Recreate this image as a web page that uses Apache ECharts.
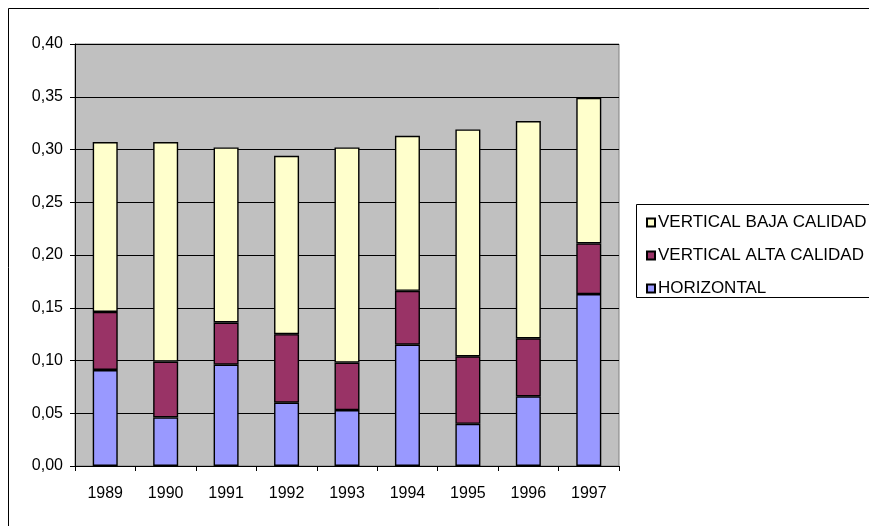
<!DOCTYPE html>
<html>
<head>
<meta charset="utf-8">
<script src="https://cdn.jsdelivr.net/npm/echarts@6/dist/echarts.min.js"></script>
<style>
  html, body { margin: 0; padding: 0; background: #ffffff; }
  #chart { width: 869px; height: 526px; }
</style>
</head>
<body>
<div id="chart"></div>
<script>
// Years on the category axis
const years = ['1989', '1990', '1991', '1992', '1993', '1994', '1995', '1996', '1997'];

// Stacked components (bottom to top)
const horizontal = [0.091, 0.046, 0.096, 0.060, 0.053, 0.115, 0.040, 0.066, 0.163];
const verticalAlta = [0.055, 0.053, 0.040, 0.065, 0.045, 0.051, 0.064, 0.055, 0.048];
const verticalBaja = [0.161, 0.208, 0.166, 0.169, 0.204, 0.147, 0.215, 0.206, 0.138];

// Series names, in legend order (top of the stack first)
const legendNames = ['VERTICAL BAJA CALIDAD', 'VERTICAL ALTA CALIDAD', 'HORIZONTAL'];

const FONT = '"Liberation Sans", Arial, sans-serif';

const chart = echarts.init(document.getElementById('chart'), null, { renderer: 'canvas' });

function barSeries(name, data, color) {
  return {
    name: name,
    type: 'bar',
    stack: 'total',
    data: data,
    barWidth: 25,
    itemStyle: { color: color, borderColor: '#000000', borderWidth: 1.4 },
    emphasis: { disabled: true }
  };
}

chart.setOption({
  animation: false,
  backgroundColor: '#ffffff',
  textStyle: { fontFamily: FONT },
  grid: {
    left: 75, top: 44, width: 544, height: 422,
    show: true,
    backgroundColor: '#C0C0C0',
    borderColor: '#808080',
    borderWidth: 1
  },
  legend: {
    orient: 'vertical',
    left: 641,
    top: 209,
    itemWidth: 8,
    itemHeight: 8,
    itemGap: 16,
    icon: 'rect',
    data: legendNames,
    selectedMode: false,
    textStyle: { fontFamily: FONT, fontSize: 17, color: '#000000', lineHeight: 17, padding: [0, 0, 0, -2] }
  },
  xAxis: {
    type: 'category',
    data: years,
    boundaryGap: true,
    axisLine: { lineStyle: { color: '#000000', width: 1 } },
    axisTick: { show: true, alignWithLabel: false, length: 5, lineStyle: { color: '#000000' } },
    axisLabel: { color: '#000000', fontSize: 16, fontFamily: FONT, margin: 20 },
    splitLine: { show: false }
  },
  yAxis: {
    type: 'value',
    min: 0,
    max: 0.4,
    interval: 0.05,
    axisLine: { show: true, lineStyle: { color: '#000000', width: 1 } },
    axisTick: { show: true, length: 5, lineStyle: { color: '#000000' } },
    axisLabel: {
      color: '#000000', fontSize: 16, fontFamily: FONT, margin: 12,
      formatter: v => v.toFixed(2).replace('.', ',')
    },
    splitLine: { show: true, lineStyle: { color: '#000000', width: 1 } }
  },
  graphic: [
    // outer chart frame
    { type: 'rect', silent: true, z: -1,
      shape: { x: 8.5, y: 8.5, width: 900, height: 600 },
      style: { fill: 'none', stroke: '#000000', lineWidth: 1 } },
    // legend frame
    { type: 'rect', silent: true,
      shape: { x: 636.5, y: 204.5, width: 300, height: 93 },
      style: { fill: '#ffffff', stroke: '#000000', lineWidth: 1 }, z: -1 }
  ],
  series: [
    barSeries('HORIZONTAL', horizontal, '#9999FF'),
    barSeries('VERTICAL ALTA CALIDAD', verticalAlta, '#993366'),
    barSeries('VERTICAL BAJA CALIDAD', verticalBaja, '#FFFFCC')
  ]
});
</script>
</body>
</html>
